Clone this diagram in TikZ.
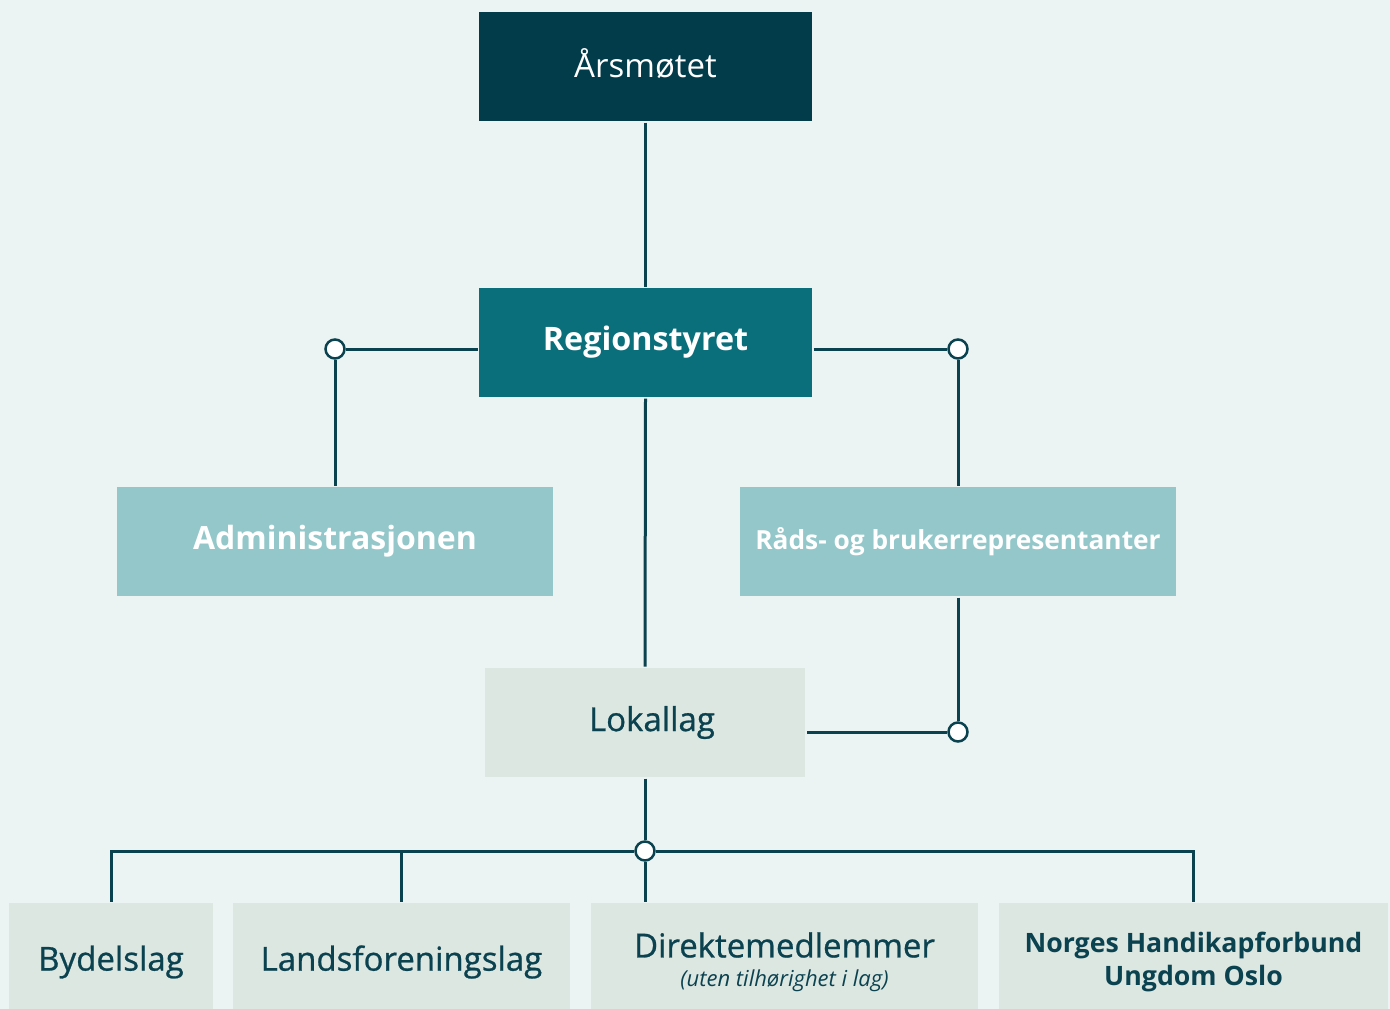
\documentclass[tikz,border=0pt]{standalone}
\usepackage{fontspec}
\setmainfont{Open Sans}
\newfontface\semibold{Open Sans}[FakeBold=0.8]
\usepackage{xcolor}
\usetikzlibrary{positioning,calc}
\definecolor{bgcol}{HTML}{EBF4F3}
\definecolor{darkcol}{HTML}{023C4A}
\definecolor{regcol}{HTML}{0B6F7B}
\definecolor{tealcol}{HTML}{93C7C9}
\definecolor{palecol}{HTML}{DDE7E2}
\definecolor{linecol}{HTML}{0B4250}
\tikzset{org/.style={x=1pt,y=-1pt,line width=3pt,draw=linecol},
    unit/.style={rectangle,inner sep=0pt,minimum height=109pt,align=center},
    top unit/.style={unit,fill=darkcol,text=white,font=\fontsize{33}{38}\selectfont},
    board unit/.style={unit,fill=regcol,text=white,font=\bfseries\fontsize{32.3}{38}\selectfont},
    side unit/.style={unit,fill=tealcol,text=white,minimum width=436pt},
    local unit/.style={unit,fill=palecol,text=linecol,font=\semibold\fontsize{33}{38}\selectfont},
    leaf unit/.style={local unit,minimum height=118pt},
    junction/.style={circle,draw=linecol,line width=2.5pt,fill=white,inner sep=0pt,minimum size=19pt}}

\begin{document}
\begin{tikzpicture}[org]
    \useasboundingbox[fill=bgcol] (0,0) rectangle (1390,1009);
    \clip (0,0) rectangle (1390,1009);

    \node[top unit, minimum width=333pt] (arsm) at (645.5,66.5) {\raisebox{6pt}{Årsmøtet}};
    \node[board unit, minimum width=333pt] (reg) at (645.5,342.5) {\raisebox{-2pt}{Regionstyret}};
    \node[side unit, font=\bfseries\fontsize{32}{38}\selectfont] (adm) at (335,541.5) {\raisebox{-3pt}{Administrasjonen}};
    \node[side unit, font=\bfseries\fontsize{26.3}{31}\selectfont] (rad) at (958,541.5) {Råds- og brukerrepresentanter};
    \node[local unit, minimum width=320pt] (lok) at (645,722.5) {\hspace*{14pt}Lokallag};

    \node[leaf unit, minimum width=204pt] (byd) at (111,962) {Bydelslag};
    \node[leaf unit, minimum width=337pt] (lfl) at (401.5,962) {Landsforeningslag};
    \node[leaf unit, minimum width=387pt] (dir) at (784.5,962) {Direktemedlemmer\\[-9pt]{\normalfont\itshape\fontsize{22}{26}\selectfont (uten tilhørighet i lag)}};
    \node[leaf unit, minimum width=389pt, font=\bfseries\fontsize{26.7}{31}\selectfont] (nhf) at (1193.5,962) {Norges Handikapforbund\\[2pt]Ungdom Oslo};

    % junctions
    \node[junction] (jadm) at (335,349) {};
    \node[junction] (jrad) at (958,349) {};
    \node[junction] (jlok) at (958,732) {};
    \node[junction] (jbot) at (645,851) {};

    \draw (arsm.south) -- (reg.north);
    \draw (jadm -| reg.west) -- (jadm);
    \draw (jadm) -- (adm.north);
    \draw (jrad -| reg.east) -- (jrad);
    \draw (jrad) -- (rad.north);
    \draw (reg.south) -- (lok.north);
    \draw (rad.south) -- (jlok);
    \draw (jlok) -- (jlok -| lok.east);
    \draw (lok.south) -- (jbot);
    \draw (jbot) -- (jbot -| byd.north) -- (byd.north);
    \draw (lfl.north |- jbot) -- (lfl.north);
    \draw (jbot) -- (jbot -| nhf.north) -- (nhf.north);
    \draw (jbot) -- (jbot |- dir.north);
\end{tikzpicture}
\end{document}
